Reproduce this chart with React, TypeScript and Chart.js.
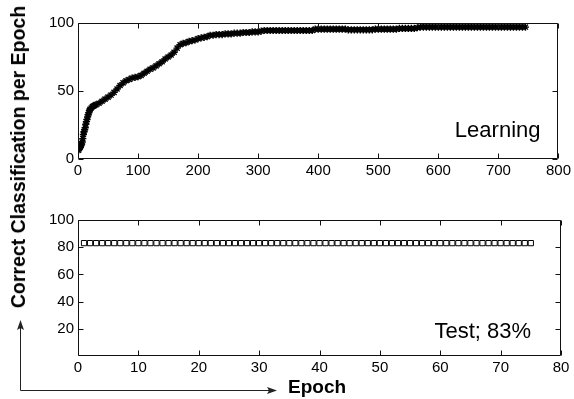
import React, { useEffect, useRef } from "react";
import { Chart, registerables } from "chart.js";

Chart.register(...registerables);

const FONT = '"Liberation Sans", Arial, Helvetica, sans-serif';

// Learning curve: epoch -> % correct
const learningEpochs = [
  1, 2, 3, 4, 5, 6, 7, 8, 9, 10, 11, 12, 13, 14, 15, 16, 17, 18, 19, 20,
  22, 24, 26, 28, 30,
  35, 40, 45, 50, 55, 60, 65, 70, 75, 80, 85, 90, 95, 100,
  105, 110, 115, 120, 125, 130, 135, 140, 145, 150, 155, 160, 165, 170, 175, 180,
  185, 190, 195, 200, 205, 210, 215, 220, 225, 230, 235, 240, 245, 250, 255, 260,
  265, 270, 275, 280, 285, 290, 295, 300, 305, 310, 315, 320, 325, 330, 335, 340,
  345, 350, 355, 360, 365, 370, 375, 380, 385, 390, 395, 400, 405, 410, 415, 420,
  425, 430, 435, 440, 445, 450, 455, 460, 465, 470, 475, 480, 485, 490, 495, 500,
  505, 510, 515, 520, 525, 530, 535, 540, 545, 550, 555, 560, 565, 570, 575, 580,
  585, 590, 595, 600, 605, 610, 615, 620, 625, 630, 635, 640, 645, 650, 655, 660,
  665, 670, 675, 680, 685, 690, 695, 700, 705, 710, 715, 720, 725, 730, 735, 740, 745,
];
const learningValues = [
  6.5, 7.5, 8.5, 9, 10, 11, 12.5, 15, 18, 20, 21.5, 23, 25.5, 27.5, 29, 31, 32.5, 34, 35.5, 36.5,
  37.5, 38.5, 39, 39.5, 40,
  41, 42.5, 44, 45.5, 47, 49, 51.5, 54, 56, 57.5, 58.5, 59.5, 60, 60.5,
  61.5, 63, 64.5, 66, 67, 68.5, 70, 71.5, 73.5, 75, 76.5, 78.5, 81.5, 84, 85, 85.5,
  86.5, 87, 87.5, 88.5, 89, 89.5, 90, 91, 91, 91.5, 91.5, 91.5, 92, 92, 92, 92.5,
  92.5, 92.5, 93, 93, 93, 93.5, 93.5, 93.5, 94, 94.5, 94.5, 94.5, 94.5, 94.5, 94.5, 94.5,
  94.5, 94.5, 94.5, 94.5, 94.5, 94.5, 94.5, 94.5, 94.5, 94.5, 95.5, 95.5, 95.5, 95.5, 95.5, 95.5,
  95.5, 95.5, 95.5, 95.5, 95.5, 95, 95, 95, 95, 95, 95, 95, 95, 95, 95.5, 95.5,
  95.5, 95.5, 95.5, 95.5, 95.5, 95.5, 96, 96, 96, 96, 96, 96, 96.5, 97, 97, 97,
  97, 97, 97, 97, 97, 97, 97, 97, 97, 97, 97, 97, 97, 97, 97, 97,
  97, 97, 97, 97, 97, 97, 97, 97, 97, 97, 97, 97, 97, 97, 97, 97, 97,
];

// Test: epoch -> % correct
const testEpochs = [
  1, 2, 3, 4, 5, 6, 7, 8, 9, 10, 11, 12, 13, 14, 15, 16, 17, 18, 19, 20,
  21, 22, 23, 24, 25, 26, 27, 28, 29, 30, 31, 32, 33, 34, 35, 36, 37, 38, 39, 40,
  41, 42, 43, 44, 45, 46, 47, 48, 49, 50, 51, 52, 53, 54, 55, 56, 57, 58, 59, 60,
  61, 62, 63, 64, 65, 66, 67, 68, 69, 70, 71, 72, 73, 74, 75,
];
const testValues = [
  83, 83, 83, 83, 83, 83, 83, 83, 83, 83, 83, 83, 83, 83, 83, 83, 83, 83, 83, 83,
  83, 83, 83, 83, 83, 83, 83, 83, 83, 83, 83, 83, 83, 83, 83, 83, 83, 83, 83, 83,
  83, 83, 83, 83, 83, 83, 83, 83, 83, 83, 83, 83, 83, 83, 83, 83, 83, 83, 83, 83,
  83, 83, 83, 83, 83, 83, 83, 83, 83, 83, 83, 83, 83, 83, 83,
];

const learningXTicks = [0, 100, 200, 300, 400, 500, 600, 700, 800];
const learningYTicks = [0, 50, 100];
const testXTicks = [0, 10, 20, 30, 40, 50, 60, 70, 80];
const testYTicks = [20, 40, 60, 80, 100];

const learningLabel = "Learning";
const testLabel = "Test; 83%";
const yTitle = "Correct Classification per Epoch";
const xTitle = "Epoch";

function framePlugin(label: string, dxRight: number, dyBottom: number) {
  return {
    id: "frame",
    afterDraw(chart: any) {
      const { ctx, chartArea: a, scales } = chart;
      const L = Math.round(a.left) + 0.5;
      const R = Math.round(a.right) - 0.5;
      const T = Math.round(a.top) + 0.5;
      const B = Math.round(a.bottom) - 0.5;
      const tl = 5;
      ctx.save();
      ctx.strokeStyle = "#111";
      ctx.lineWidth = 1;
      ctx.beginPath();
      ctx.rect(L, T, R - L, B - T);
      scales.x.ticks.forEach((t: any) => {
        const px = Math.round(scales.x.getPixelForValue(t.value)) + 0.5;
        ctx.moveTo(px, B);
        ctx.lineTo(px, B - tl);
        ctx.moveTo(px, T);
        ctx.lineTo(px, T + tl);
      });
      scales.y.ticks.forEach((t: any) => {
        const py = Math.round(scales.y.getPixelForValue(t.value)) + 0.5;
        ctx.moveTo(L, py);
        ctx.lineTo(L + tl, py);
        ctx.moveTo(R, py);
        ctx.lineTo(R - tl, py);
      });
      ctx.stroke();
      ctx.fillStyle = "#000";
      ctx.font = `22px ${FONT}`;
      ctx.textAlign = "right";
      ctx.textBaseline = "middle";
      ctx.fillText(label, a.right - dxRight, a.bottom - dyBottom);
      ctx.restore();
    },
  };
}

function makeScales(xMax: number, xTicks: number[], yTicks: number[], xHeight: number) {
  const tickFont = { family: FONT, size: 15 };
  return {
    x: {
      type: "linear",
      min: 0,
      max: xMax,
      grid: { display: false, drawTicks: false },
      border: { display: false },
      afterBuildTicks: (s: any) => {
        s.ticks = xTicks.map((v) => ({ value: v }));
      },
      afterFit: (s: any) => {
        s.height = xHeight;
      },
      ticks: { color: "#000", font: tickFont, padding: 3, maxRotation: 0, autoSkip: false },
    },
    y: {
      type: "linear",
      min: 0,
      max: 100,
      grid: { display: false, drawTicks: false },
      border: { display: false },
      afterBuildTicks: (s: any) => {
        s.ticks = yTicks.map((v) => ({ value: v }));
      },
      afterFit: (s: any) => {
        s.width = 78;
      },
      ticks: { color: "#000", font: tickFont, padding: 4, autoSkip: false },
    },
  };
}

function ScatterPanel(props: {
  width: number;
  height: number;
  top: number;
  padTop: number;
  xHeight: number;
  xs: number[];
  ys: number[];
  xMax: number;
  xTicks: number[];
  yTicks: number[];
  pointStyle: string;
  radius: number;
  bg: string;
  bw: number;
  label: string;
  dxRight: number;
  dyBottom: number;
}) {
  const ref = useRef<HTMLCanvasElement | null>(null);
  useEffect(() => {
    if (!ref.current) return;
    const data = props.xs.map((x, i) => ({ x, y: props.ys[i] }));
    const chart = new Chart(ref.current, {
      type: "scatter",
      data: {
        datasets: [
          {
            data,
            showLine: false,
            pointStyle: props.pointStyle as any,
            pointRadius: props.radius,
            pointBackgroundColor: props.bg,
            pointBorderColor: "#000",
            pointBorderWidth: props.bw,
          },
        ],
      },
      options: {
        responsive: false,
        animation: false,
        devicePixelRatio: 1,
        layout: { padding: { top: props.padTop, right: 13, bottom: 0, left: 0 } },
        plugins: { legend: { display: false }, tooltip: { enabled: false } },
        scales: makeScales(props.xMax, props.xTicks, props.yTicks, props.xHeight) as any,
      },
      plugins: [framePlugin(props.label, props.dxRight, props.dyBottom)],
    });
    return () => chart.destroy();
  }, []);
  return (
    <canvas
      ref={ref}
      width={props.width}
      height={props.height}
      style={{ position: "absolute", left: 0, top: props.top, width: props.width, height: props.height }}
    />
  );
}

export default function App() {
  return (
    <div
      style={{
        position: "fixed",
        left: 0,
        top: 0,
        width: 574,
        height: 399,
        background: "#fff",
        overflow: "hidden",
        fontFamily: FONT,
      }}
    >
      <ScatterPanel
        width={574}
        height={190}
        top={0}
        padTop={23}
        xHeight={31}
        xs={learningEpochs}
        ys={learningValues}
        xMax={800}
        xTicks={learningXTicks}
        yTicks={learningYTicks}
        pointStyle="star"
        radius={3.6}
        bg="#000"
        bw={1.4}
        label={learningLabel}
        dxRight={18}
        dyBottom={28}
      />
      <ScatterPanel
        width={574}
        height={209}
        top={190}
        padTop={30}
        xHeight={43}
        xs={testEpochs}
        ys={testValues}
        xMax={80}
        xTicks={testXTicks}
        yTicks={testYTicks}
        pointStyle="rect"
        radius={3.7}
        bg="#fff"
        bw={1}
        label={testLabel}
        dxRight={30}
        dyBottom={24}
      />
      <div
        style={{
          position: "absolute",
          left: 18,
          top: 157,
          transform: "translate(-50%, -50%) rotate(-90deg)",
          whiteSpace: "nowrap",
          fontWeight: "bold",
          fontSize: 19.5,
          lineHeight: "20px",
          color: "#000",
        }}
      >
        {yTitle}
      </div>
      <div
        style={{
          position: "absolute",
          left: 288,
          top: 387,
          transform: "translateY(-50%)",
          whiteSpace: "nowrap",
          fontWeight: "bold",
          fontSize: 19,
          lineHeight: "20px",
          color: "#000",
        }}
      >
        {xTitle}
      </div>
      <svg
        width={574}
        height={399}
        style={{ position: "absolute", left: 0, top: 0, pointerEvents: "none" }}
      >
        <path d="M20.5 327 L20.5 390.5 L270 390.5" stroke="#222" strokeWidth={1} fill="none" />
        <path d="M20.5 320 L17 330 L20.5 328 L24 330 Z" fill="#222" />
        <path d="M277 390.5 L267 387 L269 390.5 L267 394 Z" fill="#222" />
      </svg>
    </div>
  );
}
